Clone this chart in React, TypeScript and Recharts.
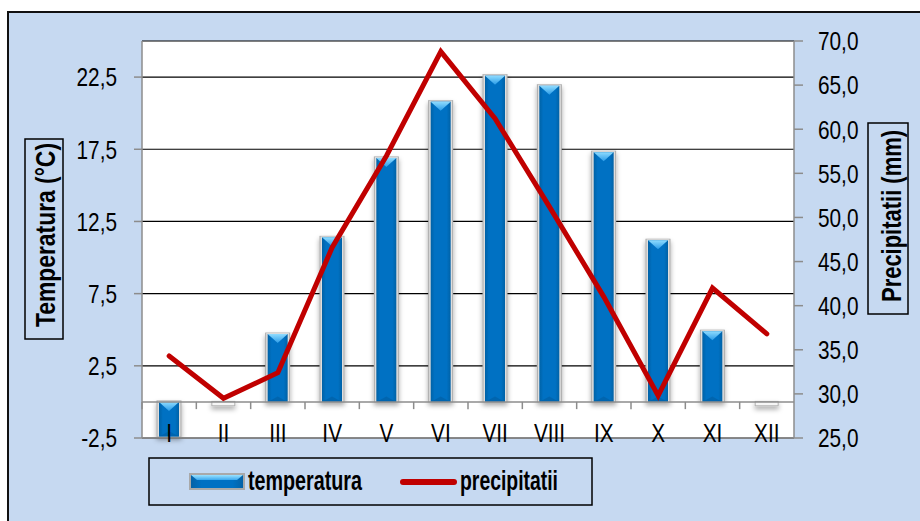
import React from 'react';
import { ComposedChart, Bar, Line, XAxis, YAxis, CartesianGrid, ReferenceLine } from 'recharts';

const months = ['I', 'II', 'III', 'IV', 'V', 'VI', 'VII', 'VIII', 'IX', 'X', 'XI', 'XII'];
const temperatura = [-2.4, -0.2, 4.7, 11.4, 16.9, 20.8, 22.6, 21.9, 17.3, 11.2, 4.9, -0.2];
const precipitatii = [34.3, 29.5, 32.4, 46.6, 57.0, 68.8, 61.2, 51.2, 41.0, 29.8, 42.0, 36.8];
const leftTicks = [-2.5, 2.5, 7.5, 12.5, 17.5, 22.5];
const rightTicks = [25, 30, 35, 40, 45, 50, 55, 60, 65, 70];
const seriesNames = ['temperatura', 'precipitatii'];
const axisTitles = ['Temperatura (°C)', 'Precipitatii (mm)'];

const data = months.map((m, i) => ({ m, t: temperatura[i], p: precipitatii[i] }));

const FONT = "'Liberation Sans', Arial, sans-serif";
const NARROW = 0.8;
const AXIS_GRAY = '#8c8c8c';
const fmt = (v: number) => v.toFixed(1).replace('.', ',');

const LeftTick = (props: any) => {
  const { x, y, payload } = props;
  return (
    <g transform={`translate(${x},${y})`}>
      <text transform={`scale(${NARROW},1)`} textAnchor="end" dy="0.358em" fontSize={26} fontFamily={FONT} fill="#000">
        {fmt(payload.value)}
      </text>
    </g>
  );
};

const RightTick = (props: any) => {
  const { x, y, payload } = props;
  return (
    <g transform={`translate(${x},${y})`}>
      <text transform={`scale(${NARROW},1)`} textAnchor="start" dy="0.358em" fontSize={26} fontFamily={FONT} fill="#000">
        {fmt(payload.value)}
      </text>
    </g>
  );
};

const XTick = (props: any) => {
  const { x, y, payload } = props;
  return (
    <g transform={`translate(${x},${y + 4})`}>
      <text transform={`scale(${NARROW},1)`} textAnchor="middle" fontSize={26} fontFamily={FONT} fill="#000">
        {payload.value}
      </text>
    </g>
  );
};

const BarShape = (props: any) => {
  const { x, y, width, height } = props;
  if (x == null || y == null) return null;
  const top = Math.min(y, y + height);
  const h = Math.abs(height);
  const w = width;
  if (h < 5) {
    return (
      <g filter="url(#barShadow)">
        <rect x={x - 1.5} y={top - 0.5} width={w + 3} height={h + 1.5} fill="#f6f6f6" stroke="#b0b0b0" strokeWidth={1} />
      </g>
    );
  }
  const bev = Math.min(w * 0.45, h / 2);
  return (
    <g filter="url(#barShadow)">
      <rect x={x - 2.5} y={top - 1.5} width={w + 5} height={h + 2} fill="#a9a9a9" />
      <rect x={x - 1.5} y={top - 1} width={w + 3} height={h + 1} fill="#dedede" />
      <rect x={x} y={top} width={w} height={h} fill="url(#barBody)" />
      <polygon points={`${x},${top} ${x + w},${top} ${x + w / 2},${top + bev}`} fill="url(#barBevel)" />
      <polygon points={`${x},${top + h} ${x + w},${top + h} ${x + w / 2},${top + h - bev * 0.6}`} fill="#005a9c" opacity={0.5} />
    </g>
  );
};

export default function App() {
  return (
    <div style={{ position: 'fixed', left: 0, top: 0, width: 920, height: 521, overflow: 'hidden', background: '#fff' }}>
      <svg width={0} height={0} style={{ position: 'absolute' }}>
        <defs>
          <linearGradient id="barBody" x1="0" y1="0" x2="1" y2="0">
            <stop offset="0" stopColor="#0562a6" />
            <stop offset="0.2" stopColor="#0071c3" />
            <stop offset="0.8" stopColor="#0071c3" />
            <stop offset="1" stopColor="#0562a6" />
          </linearGradient>
          <linearGradient id="barBevel" x1="0" y1="0" x2="0" y2="1">
            <stop offset="0" stopColor="#8fdcff" />
            <stop offset="1" stopColor="#2b9ce8" />
          </linearGradient>
          <linearGradient id="legBevel" x1="0" y1="0" x2="0" y2="1">
            <stop offset="0" stopColor="#9be2ff" />
            <stop offset="1" stopColor="#3aa8ee" />
          </linearGradient>
          <filter id="barShadow" filterUnits="userSpaceOnUse" x="0" y="0" width="920" height="521">
            <feDropShadow dx="0" dy="3" stdDeviation="2.5" floodColor="#000" floodOpacity="0.35" />
          </filter>
        </defs>
      </svg>
      <div
        style={{
          position: 'absolute',
          left: 7,
          top: 11,
          width: 1000,
          height: 1000,
          border: '2px solid #111',
          background: '#C6D9F1',
          boxSizing: 'border-box',
        }}
      />
      <div style={{ position: 'absolute', left: 0, top: 0 }}>
        <ComposedChart width={920} height={521} data={data} margin={{ top: 41, right: 66, bottom: 53, left: 82 }}>
          <CartesianGrid yAxisId="left" vertical={false} stroke="#000" strokeWidth={1.2} fill="#fff" />
          <XAxis
            dataKey="m"
            height={30}
            interval={0}
            tickLine={false}
            tickSize={0}
            tickMargin={0}
            axisLine={{ stroke: AXIS_GRAY, strokeWidth: 1.5 }}
            tick={<XTick />}
          />
          <YAxis
            yAxisId="left"
            orientation="left"
            width={60}
            domain={[-2.5, 25]}
            ticks={leftTicks}
            interval={0}
            tickSize={8}
            tickMargin={17}
            tickLine={{ stroke: AXIS_GRAY, strokeWidth: 1.5 }}
            axisLine={{ stroke: AXIS_GRAY, strokeWidth: 1.5 }}
            tick={<LeftTick />}
          />
          <YAxis
            yAxisId="right"
            orientation="right"
            width={60}
            domain={[25, 70]}
            ticks={rightTicks}
            interval={0}
            tickSize={9}
            tickMargin={15}
            tickLine={{ stroke: AXIS_GRAY, strokeWidth: 1.5 }}
            axisLine={{ stroke: AXIS_GRAY, strokeWidth: 1.5 }}
            tick={<RightTick />}
          />
          <Bar yAxisId="left" dataKey="t" name={seriesNames[0]} barSize={20} shape={<BarShape />} isAnimationActive={false} />
          <ReferenceLine yAxisId="left" y={0} stroke={AXIS_GRAY} strokeWidth={1.5} />
          {months.map((m) => (
            <ReferenceLine
              key={`tk-${m}`}
              yAxisId="left"
              position="start"
              segment={[{ x: m, y: 0 }, { x: m, y: -0.5 }]}
              stroke={AXIS_GRAY}
              strokeWidth={1.5}
            />
          ))}
          <ReferenceLine
            yAxisId="left"
            position="end"
            segment={[{ x: months[months.length - 1], y: 0 }, { x: months[months.length - 1], y: -0.5 }]}
            stroke={AXIS_GRAY}
            strokeWidth={1.5}
          />
          <Line
            yAxisId="right"
            dataKey="p"
            name={seriesNames[1]}
            type="linear"
            stroke="#C00000"
            strokeWidth={5}
            strokeLinejoin="miter"
            strokeLinecap="round"
            dot={false}
            activeDot={false}
            isAnimationActive={false}
          />
        </ComposedChart>
      </div>
      <svg width={920} height={521} style={{ position: 'absolute', left: 0, top: 0, pointerEvents: 'none' }}>
        {/* axis titles */}
        <rect x={25} y={139} width={38} height={200} fill="none" stroke="#000" strokeWidth={1.5} />
        <text
          transform="translate(55,235) rotate(-90)"
          textAnchor="middle"
          fontSize={28}
          fontWeight="bold"
          fontFamily={FONT}
          textLength={184}
          lengthAdjust="spacingAndGlyphs"
          fill="#000"
        >
          {axisTitles[0]}
        </text>
        <rect x={868} y={123} width={40} height={191} fill="none" stroke="#000" strokeWidth={1.5} />
        <text
          transform="translate(901,216) rotate(-90)"
          textAnchor="middle"
          fontSize={28}
          fontWeight="bold"
          fontFamily={FONT}
          textLength={172}
          lengthAdjust="spacingAndGlyphs"
          fill="#000"
        >
          {axisTitles[1]}
        </text>
        {/* legend */}
        <rect x={149} y={458} width={443} height={47} fill="none" stroke="#000" strokeWidth={1.5} />
        <rect x={189} y={473} width={56} height={17} fill="#a9a9a9" />
        <rect x={191} y={475} width={52} height={13} fill="url(#barBody)" />
        <polygon points="191,475 243,475 237,480 197,480" fill="url(#legBevel)" />
        <text x={248} y={490} fontSize={27} fontWeight="bold" fontFamily={FONT} textLength={114} lengthAdjust="spacingAndGlyphs" fill="#000">
          {seriesNames[0]}
        </text>
        <line x1={403} y1={482} x2={454} y2={482} stroke="#C00000" strokeWidth={6} strokeLinecap="round" />
        <text x={460} y={490} fontSize={27} fontWeight="bold" fontFamily={FONT} textLength={98} lengthAdjust="spacingAndGlyphs" fill="#000">
          {seriesNames[1]}
        </text>
      </svg>
    </div>
  );
}
